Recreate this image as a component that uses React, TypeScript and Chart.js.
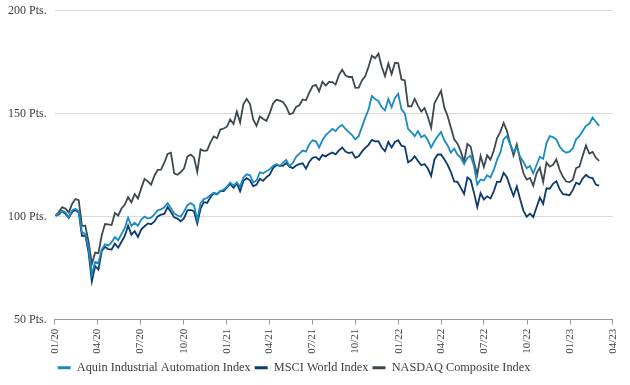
import React, { useEffect, useRef } from "react";
import { Chart, registerables } from "chart.js";

Chart.register(...registerables);

// Quarter tick labels on the x axis (MM/YY)
const TICK_LABELS = [
  "01/20", "04/20", "07/20", "10/20",
  "01/21", "04/21", "07/21", "10/21",
  "01/22", "04/22", "07/22", "10/22",
  "01/23", "04/23",
];

// y axis ticks (points)
const Y_TICKS = [50, 100, 150, 200];

// First weekly observation (Friday), one value per week afterwards
const FIRST_WEEK = "2020-01-03";

const SERIES_NAMES = [
  "Aquin Industrial Automation Index",
  "MSCI World Index",
  "NASDAQ Composite Index",
];

// Weekly index levels, rebased to 100
const AQUIN = [
  100.3, 101.5, 102.8, 102.0, 99.6, 103.0, 103.8, 102.5, 92.5, 91.5,
  84.5, 72.0, 78.0, 77.5, 84.0, 86.5, 86.0, 87.5, 90.0, 88.5,
  91.5, 94.5, 99.5, 95.5, 97.0, 95.5, 98.5, 100.0, 99.0, 99.5,
  101.0, 103.0, 103.5, 104.5, 106.5, 104.0, 101.5, 100.5, 100.0, 102.5,
  105.5, 106.5, 105.5, 98.5, 106.5, 108.5, 109.0, 110.5, 111.5, 111.0,
  112.5, 113.0, 114.5, 116.5, 115.0, 116.5, 114.5, 119.0, 120.5, 120.0,
  116.5, 117.5, 121.5, 121.0, 122.0, 123.0, 124.5, 125.5, 124.5, 126.0,
  127.5, 124.5, 126.0, 129.0, 130.5, 132.0, 131.5, 135.0, 137.0, 136.5,
  133.5, 137.0, 139.5, 141.0, 142.5, 141.5, 143.5, 144.5, 142.5, 141.0,
  139.5, 137.5, 139.0, 143.5, 148.0, 152.0, 158.5, 157.0, 156.0, 153.0,
  151.5, 157.0, 153.0, 157.5, 159.5, 152.0, 150.0, 142.5, 141.0, 139.0,
  141.5, 138.5, 139.5, 137.0, 133.5, 136.5, 139.0, 141.0, 137.0, 134.5,
  131.0, 133.0, 130.0, 128.5, 125.5, 128.5, 129.5, 124.5, 115.5, 118.0,
  117.5, 120.0, 119.0, 122.5, 127.5, 131.0, 137.5, 139.0, 135.0, 131.5,
  133.5, 129.0, 126.5, 123.5, 124.5, 121.0, 125.0, 129.0, 128.0, 135.5,
  139.0, 138.5, 137.5, 134.0, 132.0, 131.0, 131.5, 133.0, 137.5, 139.0,
  141.5, 144.0, 145.0, 148.0, 146.0, 144.0,
];

const MSCI = [
  100.4, 101.0, 102.6, 101.3, 99.3, 102.2, 103.2, 102.0, 90.6, 90.8,
  82.6, 68.5, 76.0, 74.3, 83.3, 85.4, 84.2, 84.0, 86.9, 84.9,
  87.8, 90.6, 95.6, 91.2, 92.9, 90.1, 93.8, 95.3, 96.7, 96.3,
  97.6, 100.1, 100.9, 101.3, 104.6, 102.2, 99.6, 99.0, 97.7, 99.2,
  103.0, 103.2, 102.6, 96.6, 103.9, 107.0, 106.6, 109.4, 111.5, 110.7,
  112.3, 112.3, 114.1, 115.9, 114.0, 116.2, 112.2, 117.3, 118.6, 117.6,
  114.7, 115.5, 118.3, 117.3, 119.1, 120.3, 123.5, 125.0, 124.7, 124.6,
  126.0, 124.2, 123.5, 124.8, 125.4, 125.8, 123.2, 126.5, 128.5, 128.9,
  127.5, 129.9, 129.2, 130.3, 131.1, 130.2, 132.1, 133.5, 131.5, 130.8,
  131.2, 128.5, 129.2, 131.5, 133.3, 134.8, 137.2, 136.5, 136.6, 133.5,
  131.7, 136.2, 133.5, 136.2, 137.0, 134.4, 133.9, 126.3, 127.3, 129.3,
  127.0, 124.9, 125.5, 123.3, 119.7, 127.7, 130.1, 130.1, 127.8, 125.1,
  121.6, 117.0, 116.8, 113.9, 111.0, 119.0, 117.7, 111.6, 104.6, 111.4,
  108.3, 109.8, 108.8, 112.2, 116.9, 116.8, 121.2, 119.1, 114.3, 110.0,
  114.6, 108.5, 102.9, 99.9, 101.4, 99.8, 104.5, 109.2, 106.2, 113.7,
  113.5, 115.9, 117.2, 113.3, 110.9, 110.7, 110.3, 112.8, 116.4, 115.6,
  118.4, 120.3, 119.0, 118.7, 115.5, 115.0,
];

const NASDAQ = [
  100.5, 102.3, 104.6, 103.8, 102.0, 106.1, 108.5, 108.0, 95.5, 95.6,
  87.8, 77.0, 82.5, 82.2, 90.9, 96.4, 96.2, 95.9, 101.7, 100.5,
  103.9, 105.8, 109.4, 106.9, 110.9, 108.7, 113.8, 118.3, 117.1, 115.5,
  119.8, 122.7, 122.8, 126.1, 130.4, 131.0, 121.0, 120.3, 121.6, 123.4,
  129.1, 130.1, 128.7, 121.6, 132.6, 131.9, 132.1, 136.0, 138.9, 138.0,
  142.2, 142.7, 143.6, 147.1, 144.9, 150.9, 145.7, 154.4, 157.1, 154.6,
  147.0, 144.0, 148.5, 147.3, 146.4, 150.2, 154.9, 156.6, 156.2, 155.6,
  153.3, 149.7, 150.1, 153.2, 154.0, 156.8, 156.4, 160.1, 163.2, 163.9,
  160.8, 165.4, 163.5, 165.3, 165.2, 164.0, 168.6, 171.2, 168.5, 167.7,
  167.7, 162.4, 162.5, 166.0, 168.2, 172.7, 178.0, 176.8, 179.0, 172.7,
  168.1, 174.2, 169.1, 174.5, 174.4, 166.5, 166.0, 153.5, 153.5, 157.1,
  153.7, 151.0, 152.6, 148.4, 143.1, 154.9, 157.9, 161.0, 152.8, 148.8,
  143.1, 137.5, 135.4, 131.6, 126.6, 135.2, 133.9, 126.4, 120.4, 129.4,
  124.0, 129.7, 127.6, 131.9, 138.1, 141.1, 145.4, 141.6, 135.3, 129.6,
  135.0, 127.6, 121.1, 117.9, 118.7, 115.0, 121.0, 123.7, 116.8, 126.2,
  124.2, 125.1, 127.7, 122.7, 119.3, 117.0, 116.7, 117.8, 123.5, 124.2,
  129.5, 134.5, 130.6, 131.4, 128.5, 127.0,
];

const COLORS = ["#1a8bc2", "#0c3a6c", "#3d4950"];
const FONT_FAMILY = "'Liberation Serif', 'DejaVu Serif', serif";
const TEXT_COLOR = "#3c3c3c";

const DAY_MS = 864e5;
const ORIGIN = Date.UTC(2020, 0, 1);

function labelToDay(label: string): number {
  const [m, y] = label.split("/").map(Number);
  return (Date.UTC(2000 + y, m - 1, 1) - ORIGIN) / DAY_MS;
}

const FIRST_DAY = (Date.parse(FIRST_WEEK) - ORIGIN) / DAY_MS;
const TICK_DAYS = TICK_LABELS.map(labelToDay);

function toPoints(values: number[]) {
  return values.map((v, i) => ({ x: FIRST_DAY + 7 * i, y: v }));
}

// Shift the legend row horizontally (it sits left of canvas centre in the reference)
const LEGEND_SHIFT = -13;
const legendShift = {
  id: "legendShift",
  afterLayout(chart: any) {
    const lg = chart.legend;
    if (lg) {
      lg.left += LEGEND_SHIFT;
      lg.right += LEGEND_SHIFT;
    }
  },
};

export default function App() {
  const canvasRef = useRef<HTMLCanvasElement | null>(null);

  useEffect(() => {
    const canvas = canvasRef.current;
    if (!canvas) return;
    const seriesValues = [AQUIN, MSCI, NASDAQ];
    const chart = new Chart(canvas, {
      type: "line",
      data: {
        datasets: seriesValues.map((vals, i) => ({
          label: SERIES_NAMES[i],
          data: toPoints(vals),
          borderColor: COLORS[i],
          backgroundColor: COLORS[i],
          borderWidth: 1.8,
          pointRadius: 0,
          tension: 0,
        })),
      },
      plugins: [legendShift],
      options: {
        animation: false,
        responsive: false,
        maintainAspectRatio: false,
        layout: { padding: { left: 0, right: 16, top: 0, bottom: 1 } },
        plugins: {
          tooltip: { enabled: false },
          legend: {
            position: "bottom",
            labels: {
              font: { family: FONT_FAMILY, size: 12.3 },
              color: TEXT_COLOR,
              boxWidth: 13,
              boxHeight: 3,
              padding: 4,
              generateLabels: (c: any) =>
                Chart.defaults.plugins.legend.labels
                  .generateLabels(c)
                  .map((l: any) => ({ ...l, lineWidth: 0 })),
            },
          },
        },
        scales: {
          x: {
            type: "linear",
            min: TICK_DAYS[0],
            max: TICK_DAYS[TICK_DAYS.length - 1],
            afterBuildTicks: (axis: any) => {
              axis.ticks = TICK_DAYS.map((d) => ({ value: d }));
            },
            ticks: {
              autoSkip: false,
              maxRotation: 90,
              minRotation: 90,
              padding: 4,
              color: TEXT_COLOR,
              font: { family: FONT_FAMILY, size: 11 },
              callback: (v: any) => {
                const idx = TICK_DAYS.indexOf(Number(v));
                return idx >= 0 ? TICK_LABELS[idx] : "";
              },
            },
            grid: {
              drawOnChartArea: false,
              drawTicks: true,
              tickLength: 5,
              color: "#9a9a9a",
            },
            border: { display: true, color: "#9a9a9a", width: 1 },
          },
          y: {
            min: Y_TICKS[0],
            max: Y_TICKS[Y_TICKS.length - 1],
            afterBuildTicks: (axis: any) => {
              axis.ticks = Y_TICKS.map((v) => ({ value: v }));
            },
            ticks: {
              padding: 8,
              color: TEXT_COLOR,
              font: { family: FONT_FAMILY, size: 12, lineHeight: 0.4 },
              callback: (v: any) => `${v} Pts.`,
            },
            grid: { color: "#dadada", drawTicks: false, lineWidth: 1 },
            border: { display: false },
          },
        },
      },
    });
    return () => chart.destroy();
  }, []);

  return (
    <div style={{ position: "fixed", left: 0, top: 0, width: 630, height: 385, background: "#fff" }}>
      <canvas ref={canvasRef} width={630} height={385} style={{ display: "block" }} />
    </div>
  );
}
